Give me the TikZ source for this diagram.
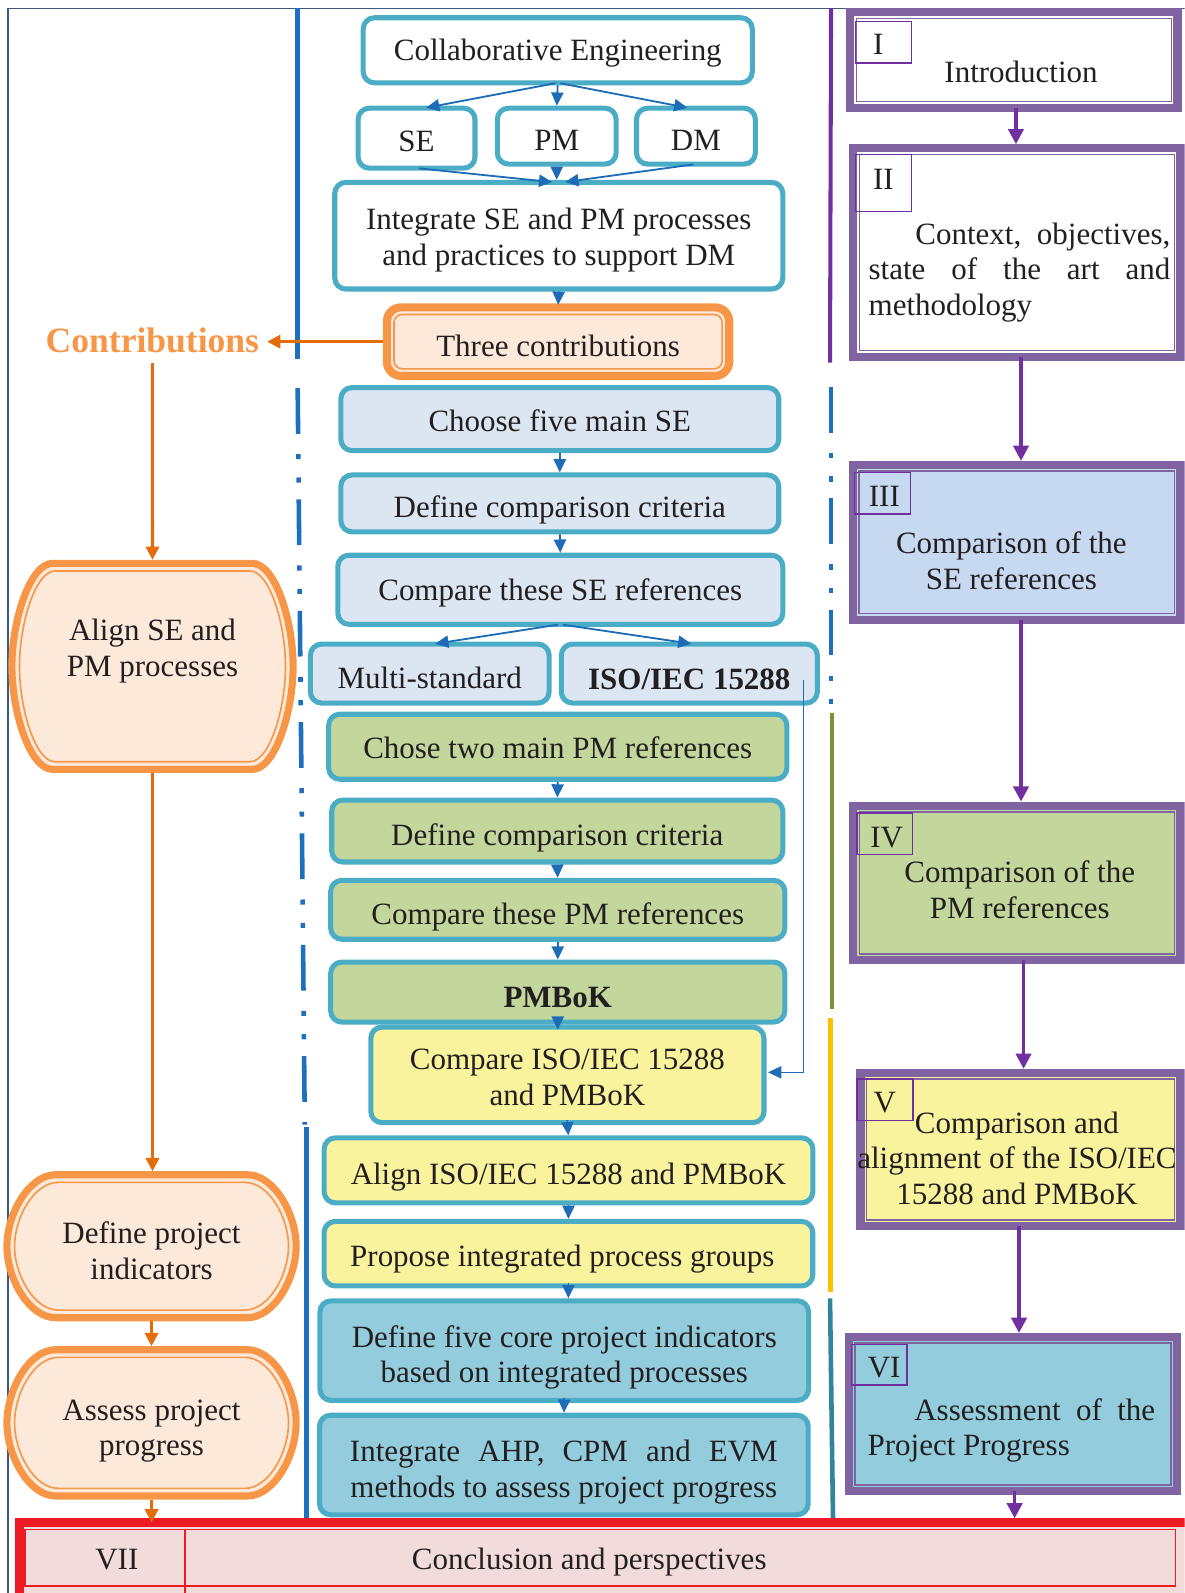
\documentclass[tikz,border=0pt]{standalone}
\usepackage{fontspec}
\setmainfont{Liberation Serif}
\usetikzlibrary{arrows.meta,calc}
\definecolor{txtc}{HTML}{231F20}
\definecolor{boxb}{HTML}{4BACC6}
\definecolor{arrb}{HTML}{1E6CB8}
\definecolor{sepb}{HTML}{1F6FBF}
\definecolor{sesf}{HTML}{DCE6F2}
\definecolor{pmgf}{HTML}{C3D69B}
\definecolor{yelf}{HTML}{FAF39D}
\definecolor{aquf}{HTML}{93CDDD}
\definecolor{peachf}{HTML}{FDE9D9}
\definecolor{orb}{HTML}{F79646}
\definecolor{ora}{HTML}{E46C0A}
\definecolor{purb}{HTML}{8064A2}
\definecolor{pura}{HTML}{7030A0}
\definecolor{sethf}{HTML}{C6D9F1}
\definecolor{redb}{HTML}{ED1C24}
\definecolor{pinkf}{HTML}{F2DCDB}
\definecolor{framec}{HTML}{3A5A80}
\definecolor{greenl}{HTML}{77933C}
\definecolor{yell}{HTML}{FFC000}
\definecolor{teall}{HTML}{31849B}
\newcommand\fs{\fontsize{30.5pt}{35pt}\selectfont}
\newcommand\topst[1]{\rule{0pt}{#1pt}}
\newcommand\botst{\rule[-7pt]{0pt}{7pt}}
\newcommand\capsdraw[6]{\path[#6] ({(#1)+(#5)},{#2}) -- ({(#3)-(#5)},{#2}) .. controls ({(#3)-0.448*(#5)},{#2}) and ({#3},{(#2)+0.276*((#4)-(#2))}) .. ({#3},{0.5*(#2)+0.5*(#4)}) .. controls ({#3},{(#4)-0.276*((#4)-(#2))}) and ({(#3)-0.448*(#5)},{#4}) .. ({(#3)-(#5)},{#4}) -- ({(#1)+(#5)},{#4}) .. controls ({(#1)+0.448*(#5)},{#4}) and ({#1},{(#4)-0.276*((#4)-(#2))}) .. ({#1},{0.5*(#2)+0.5*(#4)}) .. controls ({#1},{(#2)+0.276*((#4)-(#2))}) and ({(#1)+0.448*(#5)},{#2}) .. ({(#1)+(#5)},{#2}) -- cycle;}
\newcommand\orcaps[5]{\capsdraw{#1+3.5}{#2+3.5}{#3-3.5}{#4-3.5}{#5}{fill=peachf,draw=orb,line width=7pt}\capsdraw{#1+11}{#2+11}{#3-11}{#4-11}{#5-5}{draw=orb,line width=1.6pt}}
\begin{document}
\begin{tikzpicture}[x=1pt,y=-1pt,
  cbox/.style={draw=boxb, line width=5pt, rounded corners=11pt, inner sep=0pt, outer sep=0pt, font=\fs, text=txtc, align=center},
  lbl/.style={inner sep=0pt, outer sep=0pt, font=\fs, text=txtc, align=center},
  lshape/.style={inner sep=0pt, outer sep=0pt, font=\fs, text=txtc, align=center},
  secbox/.style={draw=purb, line width=8pt, inner sep=0pt, outer sep=0pt},
  numbox/.style={draw=pura, line width=1.5pt, inner sep=0pt, outer sep=0pt, font=\fs, text=txtc},
  barrow/.style={draw=arrb, line width=1.8pt, -{Triangle[length=13pt,width=12pt]}, shorten >=2.5pt, shorten <=2.5pt},
  tarrow/.style={draw=arrb, line width=1.3pt, -{Triangle[length=13pt,width=12pt]}},
  parrow/.style={draw=pura, line width=3.5pt, -{Triangle[length=15pt,width=15pt]}, shorten >=4pt},
  oarrow/.style={draw=ora, line width=3pt, -{Triangle[length=13pt,width=13pt]}},
  sepline/.style={line width=4.5pt},
  dashdot/.style={dash pattern=on 45pt off 20pt on 5pt off 18pt on 5pt off 16.6pt}]
\useasboundingbox (0,0) rectangle (1166,1568);
\clip (0,0) rectangle (1166,1568);
% frame
\draw[framec, line width=1.5pt] (8,1568) -- (8,8.5) -- (1166,8.5);
% separators
\draw[sepb, sepline] (293,8) -- (293,353);
\draw[sepb, sepline, dashdot] (293,382) -- (300,1107);
\draw[sepb, sepline] (301.5,1109) -- (301.5,1497);
\draw[pura, line width=4pt] (818,8) -- (817,357);
\draw[sepb, sepline, dashdot] (818,381) -- (818,694);
\draw[greenl, sepline] (819,702) -- (819,993);
\draw[yell, sepline] (817.5,1002.5) -- (817.5,1272);
\draw[teall, sepline] (817,1278) -- (820,1501);
% left shapes
\orcaps{8.2}{551}{292}{760.8}{40}
\orcaps{3.3}{1152.8}{295}{1300.5}{48}
\orcaps{3.3}{1325}{295}{1476}{48}
\node[lshape, minimum width=283.8pt, minimum height=209.8pt] (align) at (150.1,655.9) {Align SE and\\PM processes\\[2pt]\mbox{}};
\node[lshape, minimum width=291.7pt, minimum height=147.7pt] (defind) at (149.15,1226.65) {\topst{37.3}Define project\\indicators\botst};
\node[lshape, minimum width=291.7pt, minimum height=151pt] (assess) at (149.15,1400.5) {\topst{36.7}Assess project\\progress\botst};
\node[font=\fontsize{35pt}{40pt}\selectfont\bfseries, text=orb, inner xsep=8pt, inner ysep=10pt, outer sep=0pt] (contrib) at (150,335) {Contributions};
% center boxes
\node[cbox, fill=white, minimum width=383pt, minimum height=64pt] (ce) at (549,49.5) {\topst{27.7}\botst Collaborative Engineering};
\node[cbox, fill=white, minimum width=115pt, minimum height=59pt] (se) at (410,136) {\topst{33}\botst SE};
\node[cbox, fill=white, minimum width=117pt, minimum height=55pt] (pm) at (548,134) {\topst{35}\botst PM};
\node[cbox, fill=white, minimum width=117pt, minimum height=55pt] (dm) at (685,134) {\topst{35}\botst DM};
\node[cbox, fill=white, minimum width=441pt, minimum height=105pt] (integ) at (550,232) {\topst{29.7}Integrate SE and PM processes\\and practices to support DM\botst};
\node[draw=orb, line width=8pt, fill=peachf, rounded corners=14pt, inner sep=0pt, outer sep=0pt, font=\fs, text=txtc, minimum width=337pt, minimum height=67.5pt] (three) at (549.3,336.3) {\topst{36}\botst Three contributions};
\draw[orb, line width=1.6pt, rounded corners=8pt] ([shift={(7,7)}]three.north west) rectangle ([shift={(-7,-7)}]three.south east);
\node[cbox, fill=sesf, minimum width=431pt, minimum height=62pt] (choose) at (551,412.5) {\topst{32}\botst Choose five main SE};
\node[cbox, fill=sesf, minimum width=431pt, minimum height=56pt] (def1) at (551,495.5) {\topst{35.7}\botst Define comparison criteria};
\node[cbox, fill=sesf, minimum width=438pt, minimum height=68pt] (cmpse) at (551.5,580.5) {\topst{27.7}\botst Compare these SE references};
\node[cbox, fill=sesf, minimum width=235pt, minimum height=58pt] (multi) at (423,663) {\topst{36}\botst Multi-standard};
\node[cbox, fill=sesf, minimum width=252pt, minimum height=58pt, font=\fs\bfseries] (iso) at (678.5,663) {\topst{38}\botst ISO/IEC 15288};
\node[cbox, fill=pmgf, minimum width=451pt, minimum height=64pt] (chose2) at (549,735) {\topst{30}\botst Chose two main PM references};
\node[cbox, fill=pmgf, minimum width=444pt, minimum height=61pt] (def2) at (548.5,818) {\topst{35.7}\botst Define comparison criteria};
\node[cbox, fill=pmgf, minimum width=447pt, minimum height=58pt] (cmppm) at (549,895.5) {\topst{35.7}\botst Compare these PM references};
\node[cbox, fill=pmgf, minimum width=447pt, minimum height=59pt, font=\fs\bfseries] (pmbok) at (549,976.5) {\topst{38}\botst PMBoK};
\node[cbox, fill=yelf, minimum width=387pt, minimum height=94pt] (cmpiso) at (558.5,1058) {\topst{31.3}Compare ISO/IEC 15288\\and PMBoK\botst};
\node[cbox, fill=yelf, minimum width=481pt, minimum height=64pt] (aligniso) at (559.6,1152) {\topst{35.7}\botst Align ISO/IEC 15288 and PMBoK};
\node[cbox, fill=yelf, minimum width=481pt, minimum height=63.5pt] (propose) at (559.5,1234) {\topst{31.7}\botst\hspace*{-12pt}Propose integrated process groups};
\node[cbox, fill=aquf, minimum width=481pt, minimum height=98pt] (def5) at (555.4,1329.4) {\topst{35.7}Define five core project indicators\\based on integrated processes\botst};
\node[cbox, fill=aquf, minimum width=481pt, minimum height=98pt] (ahp) at (555,1442) {\topst{35.7}\makebox[421pt][s]{Integrate AHP, CPM and EVM}\\methods to assess project progress\botst};
% right column
\node[secbox, fill=white, minimum width=322pt, minimum height=94pt] (s1) at (998,59) {};
\node[secbox, fill=white, minimum width=322pt, minimum height=205pt] (s2) at (1001,248.5) {};
\node[secbox, fill=sethf, minimum width=322.6pt, minimum height=152.4pt] (s3) at (1000.7,533.8) {};
\node[secbox, fill=pmgf, minimum width=322pt, minimum height=152pt] (s4) at (1001,869) {};
\node[secbox, fill=yelf, minimum width=315pt, minimum height=151pt] (s5) at (1004.5,1131.5) {};
\node[secbox, fill=aquf, minimum width=323pt, minimum height=151.5pt] (s6) at (997,1391.75) {};
\foreach \s in {s1,s2,s3,s4,s5,s6}{
  \draw[purb, line width=1.5pt] ([shift={(6,6)}]\s.north west) rectangle ([shift={(-6,-6)}]\s.south east);
}
\node[numbox, minimum width=55pt, minimum height=41pt] (n1) at (869.5,41.5) {\topst{32}\botst\hspace*{-10pt}I};
\node[numbox, minimum width=55pt, minimum height=56pt] (n2) at (869.5,180) {\topst{17}\botst II};
\node[numbox, minimum width=55pt, minimum height=41pt] (n3) at (868.5,485.5) {\topst{34}\botst\hspace*{4pt}III};
\node[numbox, minimum width=54.5pt, minimum height=41pt] (n4) at (870.75,820.5) {\topst{34}\botst\hspace*{4pt}IV};
\node[numbox, minimum width=55pt, minimum height=41pt] (n5) at (871,1082.5) {\topst{33}\botst V};
\node[numbox, minimum width=54.5pt, minimum height=40pt] (n6) at (865.25,1343.5) {\topst{32}\botst\hspace*{10pt}VI};
\node[lbl] (t1) at (1005,71) {Introduction};
\node[lbl, align=left, anchor=west] (t2) at (855,268) {\hspace*{46pt}\makebox[251pt][s]{Context, objectives,}\\\makebox[297pt][s]{state of the art and}\\methodology};
\node[lbl] (t3) at (995.5,552) {Comparison of the\\SE references};
\node[lbl] (t4) at (1003.7,875.6) {Comparison of the\\PM references};
\node[lbl] (t5) at (1001,1140) {Comparison and\\alignment of the ISO/IEC\\15288 and PMBoK};
\node[lbl, align=left, anchor=west] (t6) at (854,1408) {\hspace*{46pt}\makebox[237pt][s]{Assessment of the}\\Project Progress};
% bottom bar
\node[draw=redb, line width=9pt, fill=pinkf, inner sep=0pt, outer sep=0pt, minimum width=1160pt, minimum height=85pt] (vii) at (599.5,1541) {};
\draw[redb, line width=1.5pt] (24.6,1505.5) rectangle (1157,1561);
\draw[redb, line width=1.5pt] (182,1505.5) -- (182,1568);
\node[lbl] (viin) at (115,1535) {VII};
\node[lbl] (viit) at (580,1537.5) {Conclusion and perspectives};
% blue connectors
\draw[barrow] (ce.south) -- ([xshift=7pt]se.north);
\draw[barrow] (ce.south) -- (pm.north);
\draw[barrow] (ce.south) -- ([xshift=-6pt]dm.north);
\draw[barrow] (se.south) -- ([xshift=-4pt]integ.north);
\draw[barrow] (pm.south) -- (pm.south |- integ.north);
\draw[barrow] (dm.south) -- ([xshift=4pt]integ.north);
\draw[barrow] (integ.south) -- (three.north);
\draw[barrow] (choose.south) -- (def1.north);
\draw[barrow] (def1.south) -- (cmpse.north);
\draw[barrow] (cmpse.south) -- ([xshift=3pt]multi.north);
\draw[barrow] (cmpse.south) -- ([xshift=4.5pt]iso.north);
\draw[barrow] (chose2.south) -- (def2.north);
\draw[barrow] (def2.south) -- (cmppm.north);
\draw[barrow] (cmppm.south) -- (pmbok.north);
\draw[barrow] (pmbok.south) -- ($(pmbok.south |- cmpiso.north)+(0,5)$);
\draw[barrow] (cmpiso.south) -- (aligniso.north);
\draw[barrow] (aligniso.south) -- (propose.north);
\draw[barrow] (propose.south) -- (propose.south |- def5.north);
\draw[barrow] (def5.south) -- (ahp.north);
\draw[tarrow] ($(iso.east)+(-13.5,6)$) |- ($(cmpiso.east)+(4,-2.5)$);
% orange connectors
\draw[oarrow, shorten <=4pt] (three.west) -- (three.west -| contrib.east);
\draw[oarrow] (contrib.south) -- (align.north);
\draw[oarrow] (align.south) -- (align.south |- defind.north);
\draw[oarrow] (defind.south) -- (defind.south |- assess.north);
\draw[oarrow] (assess.south) -- (assess.south |- vii.north);
% purple connectors
\draw[parrow] ($(s1.south)+(2,0)$) -- ($(s1.south |- s2.north)+(2,0)$);
\draw[parrow] ($(s2.south)+(4,0)$) -- ($(s2.south |- s3.north)+(4,0)$);
\draw[parrow] ($(s3.south)+(4.3,0)$) -- ($(s3.south |- s4.north)+(4.3,0)$);
\draw[parrow] ($(s4.south)+(6.5,0)$) -- ($(s4.south |- s5.north)+(6.5,0)$);
\draw[parrow] ($(s5.south)+(-1.5,0)$) -- ($(s5.south |- s6.north)+(-1.5,0)$);
\draw[parrow] ($(s6.south)+(1.7,0)$) -- ($(s6.south |- vii.north)+(1.7,0)$);
\end{tikzpicture}
\end{document}
